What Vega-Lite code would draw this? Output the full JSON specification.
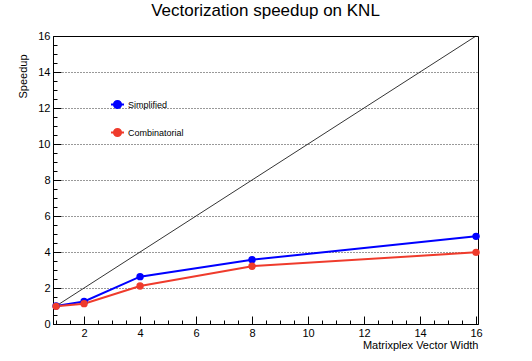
{
  "$schema": "https://vega.github.io/schema/vega-lite/v6.json",
  "width": 425,
  "height": 288,
  "autosize": "none",
  "padding": {"left": 53, "top": 36, "right": 54, "bottom": 37},
  "background": "white",
  "config": {
    "font": "Liberation Sans",
    "view": {"stroke": "black", "strokeWidth": 1},
    "axis": {"labelFont": "Liberation Sans", "titleFont": "Liberation Sans", "labelFontSize": 11, "titleFontSize": 11, "titleFontWeight": "normal", "labelColor": "black", "titleColor": "black", "domainColor": "black", "tickColor": "black"}
  },
  "title": {"text": "Vectorization speedup on KNL", "fontSize": 17, "fontWeight": "normal", "font": "Liberation Sans", "color": "black", "anchor": "middle", "offset": 10},
  "datasets": {
    "series": [
      {"width": 1, "speedup": 1.0, "method": "Simplified"},
      {"width": 2, "speedup": 1.25, "method": "Simplified"},
      {"width": 4, "speedup": 2.63, "method": "Simplified"},
      {"width": 8, "speedup": 3.57, "method": "Simplified"},
      {"width": 16, "speedup": 4.87, "method": "Simplified"},
      {"width": 1, "speedup": 0.98, "method": "Combinatorial"},
      {"width": 2, "speedup": 1.13, "method": "Combinatorial"},
      {"width": 4, "speedup": 2.11, "method": "Combinatorial"},
      {"width": 8, "speedup": 3.21, "method": "Combinatorial"},
      {"width": 16, "speedup": 3.98, "method": "Combinatorial"}
    ],
    "ideal": [
      {"width": 1, "speedup": 1},
      {"width": 16, "speedup": 16}
    ]
  },
  "encoding": {
    "x": {
      "field": "width", "type": "quantitative",
      "scale": {"domain": [0.89, 16.07], "nice": false, "zero": false},
      "axis": {
        "title": "Matrixplex Vector Width",
        "values": [1,1.5,2,2.5,3,3.5,4,4.5,5,5.5,6,6.5,7,7.5,8,8.5,9,9.5,10,10.5,11,11.5,12,12.5,13,13.5,14,14.5,15,15.5,16],
        "labelExpr": "datum.value % 2 === 0 ? format(datum.value, 'd') : ''",
        "tickSize": {"condition": {"test": "datum.value % 2 === 0", "value": -8}, "value": -4},
        "labelPadding": 11,
        "labelFlush": false,
        "labelOverlap": false,
        "grid": false,
        "titleAnchor": "end",
        "titleAlign": "right",
        "titleX": 425,
        "titleY": 24,
        "titleBaseline": "alphabetic"
      }
    },
    "y": {
      "field": "speedup", "type": "quantitative",
      "scale": {"domain": [0, 16], "nice": false},
      "axis": {
        "title": "Speedup",
        "values": [0,0.5,1,1.5,2,2.5,3,3.5,4,4.5,5,5.5,6,6.5,7,7.5,8,8.5,9,9.5,10,10.5,11,11.5,12,12.5,13,13.5,14,14.5,15,15.5,16],
        "labelExpr": "datum.value % 2 === 0 ? format(datum.value, 'd') : ''",
        "tickSize": {"condition": {"test": "datum.value % 2 === 0", "value": -8}, "value": -4},
        "labelPadding": 11,
        "labelFlush": false,
        "labelOverlap": false,
        "grid": true,
        "gridColor": "black",
        "gridDash": [1, 2],
        "gridWidth": 1,
        "gridOpacity": {"condition": {"test": "datum.value % 2 === 0 && datum.value > 0 && datum.value < 16", "value": 0.8}, "value": 0},
        "titleAngle": -90,
        "titleAlign": "right",
        "titleBaseline": "middle",
        "titleX": -30,
        "titleY": 18
      }
    }
  },
  "layer": [
    {
      "data": {"name": "ideal"},
      "mark": {"type": "line", "color": "black", "strokeWidth": 0.8}
    },
    {
      "data": {"name": "series"},
      "mark": {"type": "line", "strokeWidth": 2},
      "encoding": {
        "color": {
          "field": "method", "type": "nominal",
          "scale": {"domain": ["Simplified", "Combinatorial"], "range": ["#0000ff", "#ef3b2c"]},
          "legend": {
            "title": null,
            "orient": "none",
            "legendX": 57,
            "legendY": 61,
            "symbolType": "M-1,0L1,0M-0.55,0A0.55,0.55 0 1,0 0.55,0A0.55,0.55 0 1,0 -0.55,0Z",
            "symbolSize": 169,
            "symbolStrokeWidth": 2,
            "labelFont": "Liberation Sans",
            "labelFontSize": 9,
            "labelColor": "black",
            "labelOffset": 3,
            "rowPadding": 11
          }
        }
      }
    },
    {
      "data": {"name": "series"},
      "mark": {"type": "circle", "size": 55, "opacity": 1},
      "encoding": {
        "color": {"field": "method", "type": "nominal"}
      }
    }
  ]
}
